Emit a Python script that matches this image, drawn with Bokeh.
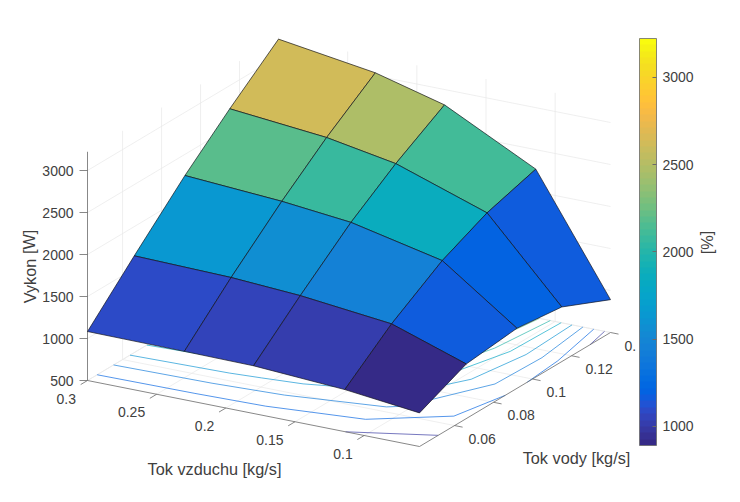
from bokeh.plotting import figure
from bokeh.models import ColorBar, LinearColorMapper, FixedTicker
from bokeh.embed import file_html
from bokeh.resources import INLINE
from bokeh.core.properties import value

# ---- data ----
water = [0.042, 0.066, 0.092, 0.115, 0.14]       # Tok vody [kg/s]
air = [0.06, 0.114, 0.18, 0.23, 0.30]            # Tok vzduchu [kg/s]
vykon_row0 = [900, 1001, 1068, 1076, 1083]
vykon_row1 = [1150, 1451, 1571, 1623, 1652]
vykon_row2 = [1215, 1844, 2083, 2170, 2248]
vykon_row3 = [1150, 2094, 2464, 2611, 2724]
vykon_row4 = [891, 2268, 2817, 3035, 3207]
power = [vykon_row0, vykon_row1, vykon_row2, vykon_row3, vykon_row4]

water_ticks = [0.06, 0.08, 0.1, 0.12, 0.14]
water_labels = ["0.06", "0.08", "0.1", "0.12", "0."]
air_ticks = [0.3, 0.25, 0.2, 0.15, 0.1]
air_labels = ["0.3", "0.25", "0.2", "0.15", "0.1"]
z_ticks = [500, 1000, 1500, 2000, 2500, 3000]
z_labels = ["500", "1000", "1500", "2000", "2500", "3000"]
cbar_ticks = [1000, 1500, 2000, 2500, 3000]
contour_levels = [1000, 1200, 1400, 1600, 1800, 2000, 2200, 2400, 2600, 2800, 3000, 3200]

W_MIN, W_MAX = 0.042, 0.14
A_MIN, A_MAX = 0.06, 0.30
Z_MIN, Z_MAX = 500, 3223
C_MIN, C_MAX = 891, 3223

parula = [
    (0.2081,0.1663,0.5292),(0.2116,0.1898,0.5777),(0.2123,0.2138,0.6270),(0.2081,0.2386,0.6771),
    (0.1959,0.2645,0.7279),(0.1707,0.2919,0.7792),(0.1253,0.3242,0.8303),(0.0591,0.3598,0.8683),
    (0.0117,0.3875,0.8820),(0.0060,0.4086,0.8828),(0.0165,0.4266,0.8786),(0.0329,0.4430,0.8720),
    (0.0498,0.4586,0.8641),(0.0629,0.4737,0.8554),(0.0723,0.4887,0.8467),(0.0779,0.5040,0.8384),
    (0.0793,0.5200,0.8312),(0.0749,0.5375,0.8263),(0.0641,0.5570,0.8240),(0.0488,0.5772,0.8228),
    (0.0343,0.5966,0.8199),(0.0265,0.6137,0.8135),(0.0239,0.6287,0.8038),(0.0231,0.6418,0.7913),
    (0.0228,0.6535,0.7768),(0.0267,0.6642,0.7607),(0.0384,0.6743,0.7436),(0.0590,0.6838,0.7254),
    (0.0843,0.6928,0.7062),(0.1133,0.7015,0.6859),(0.1453,0.7098,0.6646),(0.1801,0.7177,0.6424),
    (0.2178,0.7250,0.6193),(0.2586,0.7317,0.5954),(0.3022,0.7376,0.5712),(0.3482,0.7424,0.5473),
    (0.3953,0.7459,0.5244),(0.4420,0.7481,0.5033),(0.4871,0.7491,0.4840),(0.5300,0.7491,0.4661),
    (0.5709,0.7485,0.4494),(0.6099,0.7473,0.4337),(0.6473,0.7456,0.4188),(0.6834,0.7435,0.4044),
    (0.7184,0.7411,0.3905),(0.7525,0.7384,0.3768),(0.7858,0.7356,0.3633),(0.8185,0.7327,0.3498),
    (0.8507,0.7299,0.3360),(0.8824,0.7274,0.3217),(0.9139,0.7258,0.3063),(0.9450,0.7261,0.2886),
    (0.9739,0.7314,0.2666),(0.9938,0.7455,0.2403),(0.9990,0.7653,0.2164),(0.9955,0.7861,0.1967),
    (0.9880,0.8066,0.1794),(0.9789,0.8271,0.1633),(0.9697,0.8481,0.1475),(0.9626,0.8705,0.1309),
    (0.9589,0.8949,0.1132),(0.9598,0.9218,0.0948),(0.9661,0.9514,0.0755),(0.9763,0.9831,0.0538)]
palette = ["#%02x%02x%02x" % tuple(round(c * 255) for c in rgb) for rgb in parula]


def colour(z):
    t = (z - C_MIN) / (C_MAX - C_MIN)
    return palette[max(0, min(63, int(t * 64)))]


# orthographic view of the 3D box onto the page
def px(w, a):
    return 87 + (A_MAX - a) * 332 / (A_MAX - A_MIN) + (w - W_MIN) * 191 / (W_MAX - W_MIN)


def py(w, a, z):
    return 380 + (A_MAX - a) * 66 / (A_MAX - A_MIN) - (w - W_MIN) * 114 / (W_MAX - W_MIN) - (z - Z_MIN) * 0.084


p = figure(width=724, height=486, x_range=(0, 724), y_range=(486, 0),
           output_backend="svg", toolbar_location=None, min_border=0,
           background_fill_color="white", border_fill_color="white")
p.axis.visible = False
p.grid.visible = False
p.outline_line_color = None

GRID = "#e8e8e8"
AXC = "#6a6a6a"
TXT = "#404040"
FONT = value("Liberation Sans")

# back walls and floor grid
gx0, gy0, gx1, gy1 = [], [], [], []


def seg(w0, a0, z0, w1, a1, z1, xs=gx0, ys=gy0, xe=gx1, ye=gy1):
    xs.append(px(w0, a0)); ys.append(py(w0, a0, z0)); xe.append(px(w1, a1)); ye.append(py(w1, a1, z1))


for z in z_ticks:
    seg(W_MIN, A_MAX, z, W_MAX, A_MAX, z)
    seg(W_MAX, A_MAX, z, W_MAX, A_MIN, z)
for w in water_ticks:
    seg(w, A_MAX, Z_MIN, w, A_MAX, Z_MAX)
    seg(w, A_MAX, Z_MIN, w, A_MIN, Z_MIN)
for a in air_ticks:
    seg(W_MAX, a, Z_MIN, W_MAX, a, Z_MAX)
    seg(W_MIN, a, Z_MIN, W_MAX, a, Z_MIN)
p.segment(gx0, gy0, gx1, gy1, line_color=GRID, line_width=0.7)


# contour lines on the floor (marching squares over the measured grid)
def crossings(lv, i, j):
    corners = [(i, j), (i + 1, j), (i + 1, j + 1), (i, j + 1)]
    out = []
    for k in range(4):
        (i0, j0), (i1, j1) = corners[k], corners[(k + 1) % 4]
        z0, z1 = power[i0][j0], power[i1][j1]
        if (z0 - lv) * (z1 - lv) < 0:
            t = (lv - z0) / (z1 - z0)
            out.append((water[i0] + t * (water[i1] - water[i0]), air[j0] + t * (air[j1] - air[j0])))
    return out


for lv in contour_levels:
    cx0, cy0, cx1, cy1 = [], [], [], []
    for i in range(4):
        for j in range(4):
            pts = crossings(lv, i, j)
            for k in range(0, len(pts) - 1, 2):
                (w0, a0), (w1, a1) = pts[k], pts[k + 1]
                seg(w0, a0, Z_MIN, w1, a1, Z_MIN, cx0, cy0, cx1, cy1)
    if cx0:
        p.segment(cx0, cy0, cx1, cy1, line_color=colour(lv), line_width=0.8, line_alpha=0.85)

# axis lines and ticks
ax0, ay0, ax1, ay1 = [], [], [], []
seg(W_MIN, A_MAX, Z_MIN, W_MIN, A_MIN, Z_MIN, ax0, ay0, ax1, ay1)
seg(W_MIN, A_MIN, Z_MIN, W_MAX, A_MIN, Z_MIN, ax0, ay0, ax1, ay1)
seg(W_MIN, A_MAX, Z_MIN, W_MIN, A_MAX, Z_MAX, ax0, ay0, ax1, ay1)
for a in air_ticks:
    seg(W_MIN, a, Z_MIN, W_MIN - 0.0035, a, Z_MIN, ax0, ay0, ax1, ay1)
for w in water_ticks:
    seg(w, A_MIN, Z_MIN, w, A_MIN - 0.0058, Z_MIN, ax0, ay0, ax1, ay1)
for z in z_ticks:
    ax0.append(px(W_MIN, A_MAX)); ay0.append(py(W_MIN, A_MAX, z))
    ax1.append(px(W_MIN, A_MAX) - 8); ay1.append(py(W_MIN, A_MAX, z))
p.segment(ax0, ay0, ax1, ay1, line_color=AXC, line_width=0.8)

# surface, painted from the far corner to the near corner
for i in range(3, -1, -1):
    for j in range(3, -1, -1):
        cell = [(i, j), (i + 1, j), (i + 1, j + 1), (i, j + 1)]
        xs = [px(water[m], air[n]) for m, n in cell]
        ys = [py(water[m], air[n], power[m][n]) for m, n in cell]
        p.patch(xs, ys, fill_color=colour(power[i][j]), line_color="#101018", line_width=0.8, line_alpha=0.85)

# tick labels
TS = "14px"
p.text([px(W_MIN, A_MAX) - 14] * len(z_ticks), [py(W_MIN, A_MAX, z) for z in z_ticks], text=z_labels,
       text_align="right", text_baseline="middle", text_font=FONT, text_font_size=TS, text_color=TXT)
p.text([px(W_MIN, a) - 11.5 for a in air_ticks], [py(W_MIN, a, Z_MIN) + 18 for a in air_ticks], text=air_labels,
       text_align="right", text_baseline="middle", text_font=FONT, text_font_size=TS, text_color=TXT)
p.text([px(w, A_MIN) + 14 for w in water_ticks], [py(w, A_MIN, Z_MIN) + 13 for w in water_ticks], text=water_labels,
       text_align="left", text_baseline="middle", text_font=FONT, text_font_size=TS, text_color=TXT)

# axis titles
LS = "16.3px"
p.text([214], [468], text=["Tok vzduchu [kg/s]"], text_align="center", text_baseline="middle",
       text_font=FONT, text_font_size=LS, text_color=TXT)
p.text([576], [457], text=["Tok vody [kg/s]"], text_align="center", text_baseline="middle",
       text_font=FONT, text_font_size=LS, text_color=TXT)
p.text([29], [266], text=["Vykon [W]"], angle=1.5708, text_align="center", text_baseline="middle",
       text_font=FONT, text_font_size=LS, text_color=TXT)
p.text([706], [242], text=["[%]"], angle=1.5708, text_align="center", text_baseline="middle",
       text_font=FONT, text_font_size=LS, text_color=TXT)

# colour bar
mapper = LinearColorMapper(palette=palette, low=C_MIN, high=C_MAX)
cb = ColorBar(color_mapper=mapper, ticker=FixedTicker(ticks=cbar_ticks), width=17, height=407,
              location=(639, 41), padding=0, margin=0, background_fill_alpha=0,
              bar_line_color=AXC, bar_line_width=0.8, major_tick_line_color=AXC, major_tick_in=4, major_tick_out=0,
              minor_tick_line_color=None, major_label_text_font="Liberation Sans",
              major_label_text_font_size=TS, major_label_text_color=TXT, label_standoff=6,
              border_line_color=None)
p.add_layout(cb, "center")

open("out.html", "w").write(file_html(p, INLINE))
